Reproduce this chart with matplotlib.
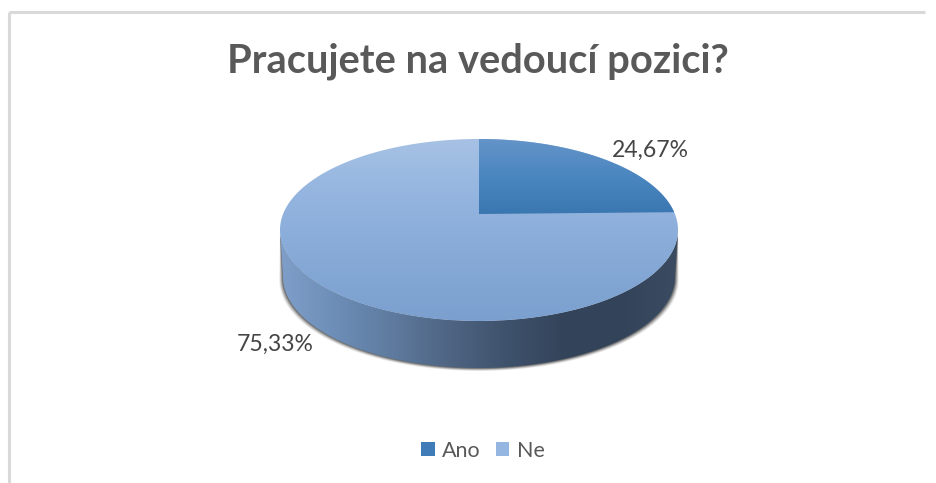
import numpy as np
import matplotlib
matplotlib.use("Agg")
import matplotlib.pyplot as plt
from matplotlib.colors import LinearSegmentedColormap
from matplotlib.patches import Polygon, Patch

title = "Pracujete na vedoucí pozici?"
categories = ["Ano", "Ne"]
values = [24.67, 75.33]

W, H = 936, 483
fig = plt.figure(figsize=(W / 100, H / 100), dpi=100, facecolor="white")
ax = fig.add_axes([0, 0, 1, 1])
ax.set_xlim(0, W)
ax.set_ylim(H, 0)
ax.axis("off")
FONT = "Lato"

# geometry of the pie plane
cx, top, apex, bottom, half_w, depth = 479.0, 139.0, 214.0, 321.0, 199.0, 47.0
C = ((bottom - apex) - (apex - top)) / (bottom - top)
A = top * (1 + C) - apex
D = half_w * np.sqrt(1 - C ** 2)


def project(theta):
    u, v = np.sin(theta), np.cos(theta)
    den = 1 + C * v
    return cx + D * u / den, (A * v + apex) / den


def gradient(poly, stops, horizontal=False, zorder=3):
    cmap = LinearSegmentedColormap.from_list("g", stops)
    x0, x1 = poly[:, 0].min(), poly[:, 0].max()
    y0, y1 = poly[:, 1].min(), poly[:, 1].max()
    g = np.linspace(0, 1, 256)
    arr = g[None, :] if horizontal else g[:, None]
    im = ax.imshow(arr, extent=(x0, x1, y1, y0), cmap=cmap, aspect="auto", zorder=zorder, interpolation="bilinear")
    patch = Polygon(poly, closed=True, transform=ax.transData, facecolor="none", edgecolor="none")
    ax.add_patch(patch)
    im.set_clip_path(patch)


# slice angles from the values
ang = np.cumsum([0] + values) / sum(values) * 2 * np.pi
t_full = np.linspace(0, 2 * np.pi, 720)
ex, ey = project(t_full)
rim = np.column_stack([ex, ey])

# side wall outline (front half of the rim, pushed down and slightly narrowed)
left = np.argmin(ex)
right = np.argmax(ex)
front = rim[right:left + 1]
lower = front[::-1] + [0, depth]
lower[:, 0] = cx + (lower[:, 0] - cx) * 0.985
side = np.vstack([front, lower])

# soft shadow
for grow, alpha in zip([5, 4, 3, 2, 1], [0.08, 0.12, 0.17, 0.24, 0.32]):
    sh = lower.copy()
    sh[:, 1] += grow * 0.6
    sh[:, 0] = cx + (sh[:, 0] - cx) * (1 + grow / 260)
    ax.add_patch(Polygon(np.vstack([front, sh]), closed=True, facecolor="#222222", edgecolor="none", alpha=alpha, zorder=2))

gradient(side, ["#7F9FCA", "#6C8DB6", "#5E7A9E", "#4E6482", "#3F526C", "#33445A", "#33445A", "#3A4B62"], horizontal=True, zorder=3)

# top surface, bottom slice first so the gradient spans the whole rim
gradient(rim, ["#A6C1E4", "#93B4DF", "#86A9D6", "#7BA0CF"], zorder=4)
t_a = np.linspace(ang[0], ang[1], 200)
wx, wy = project(t_a)
wedge = np.vstack([[cx, apex], np.column_stack([wx, wy])])
gradient(wedge, ["#6494C8", "#4A86C0", "#3A76B0"], zorder=5)

# labels from the values
fmt = lambda v: f"{v:.2f}".replace(".", ",") + "%"
ax.text(650, 150, fmt(values[0]), ha="center", va="center", fontsize=16.6, color="#454545", family=FONT, zorder=6)
ax.text(275, 344, fmt(values[1]), ha="center", va="center", fontsize=16.6, color="#454545", family=FONT, zorder=6)

ax.text(477.5, 72, title, ha="center", va="baseline", fontsize=28.7, fontweight="bold", color="#595959", family=FONT)

# chart border
ax.plot([9, 9], [H, 12], color="#D9D9D9", lw=2.2, solid_capstyle="butt", zorder=1)
ax.plot([9, 925], [12, 12], color="#D9D9D9", lw=2.2, solid_capstyle="butt", zorder=1)

leg = ax.legend(
    handles=[Patch(facecolor="#3F7CB8", edgecolor="none", label=categories[0]),
             Patch(facecolor="#95B6E0", edgecolor="none", label=categories[1])],
    loc="center", bbox_to_anchor=(483 / W, 1 - 451 / H), ncol=2, frameon=False,
    prop={"family": FONT, "size": 15.5}, labelcolor="#595959",
    handlelength=0.62, handleheight=0.62, handletextpad=0.35, columnspacing=0.7,
)
ax.set_xlim(0, W)
ax.set_ylim(H, 0)
fig.savefig("out.png", dpi=100, facecolor="white")
